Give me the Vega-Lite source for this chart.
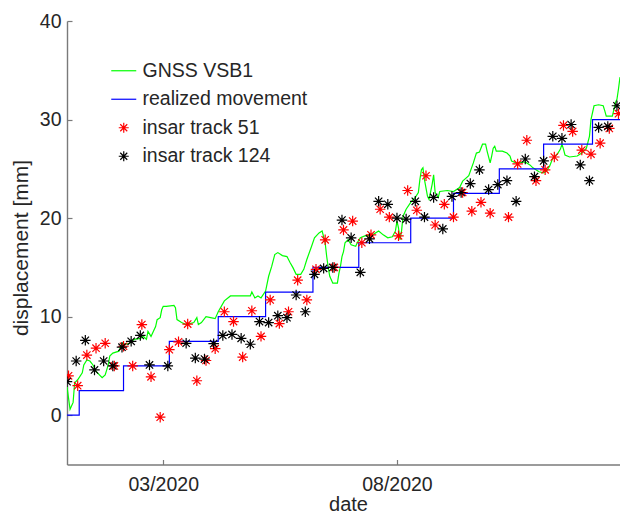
{
  "$schema": "https://vega.github.io/schema/vega-lite/v6.json",
  "width": 553,
  "height": 443.5,
  "autosize": "none",
  "padding": {"left": 67, "top": 21, "right": 0, "bottom": 50},
  "background": "white",
  "config": {
    "view": {"stroke": null},
    "font": "Liberation Sans",
    "axis": {
      "grid": false,
      "domainColor": "#7a7a7a",
      "domainWidth": 1.4,
      "tickColor": "#7a7a7a",
      "tickWidth": 1.2,
      "tickSize": -5,
      "labelColor": "#262626",
      "titleColor": "#262626",
      "labelFont": "Liberation Sans",
      "titleFont": "Liberation Sans",
      "labelFontSize": 19.5,
      "titleFontSize": 21,
      "titleFontWeight": "normal",
      "labelOverlap": false,
      "labelFlush": false
    }
  },
  "datasets": {
    "gnss": [
      {"date": "2019-12-29", "mm": 2.9, "series": "GNSS VSB1"},
      {"date": "2019-12-31", "mm": 0.6, "series": "GNSS VSB1"},
      {"date": "2020-01-02", "mm": 1.3, "series": "GNSS VSB1"},
      {"date": "2020-01-03", "mm": 3.3, "series": "GNSS VSB1"},
      {"date": "2020-01-05", "mm": 3.6, "series": "GNSS VSB1"},
      {"date": "2020-01-08", "mm": 4.3, "series": "GNSS VSB1"},
      {"date": "2020-01-09", "mm": 5.1, "series": "GNSS VSB1"},
      {"date": "2020-01-11", "mm": 5.6, "series": "GNSS VSB1"},
      {"date": "2020-01-13", "mm": 5.5, "series": "GNSS VSB1"},
      {"date": "2020-01-15", "mm": 5.1, "series": "GNSS VSB1"},
      {"date": "2020-01-17", "mm": 4.45, "series": "GNSS VSB1"},
      {"date": "2020-01-21", "mm": 3.8, "series": "GNSS VSB1"},
      {"date": "2020-01-23", "mm": 4.1, "series": "GNSS VSB1"},
      {"date": "2020-01-25", "mm": 5.1, "series": "GNSS VSB1"},
      {"date": "2020-01-26", "mm": 6.0, "series": "GNSS VSB1"},
      {"date": "2020-01-28", "mm": 6.3, "series": "GNSS VSB1"},
      {"date": "2020-02-01", "mm": 6.5, "series": "GNSS VSB1"},
      {"date": "2020-02-03", "mm": 7.3, "series": "GNSS VSB1"},
      {"date": "2020-02-05", "mm": 7.2, "series": "GNSS VSB1"},
      {"date": "2020-02-08", "mm": 7.3, "series": "GNSS VSB1"},
      {"date": "2020-02-11", "mm": 7.7, "series": "GNSS VSB1"},
      {"date": "2020-02-15", "mm": 7.8, "series": "GNSS VSB1"},
      {"date": "2020-02-17", "mm": 8.0, "series": "GNSS VSB1"},
      {"date": "2020-02-19", "mm": 7.7, "series": "GNSS VSB1"},
      {"date": "2020-02-20", "mm": 8.5, "series": "GNSS VSB1"},
      {"date": "2020-02-22", "mm": 8.0, "series": "GNSS VSB1"},
      {"date": "2020-02-25", "mm": 9.0, "series": "GNSS VSB1"},
      {"date": "2020-02-26", "mm": 9.7, "series": "GNSS VSB1"},
      {"date": "2020-02-28", "mm": 9.9, "series": "GNSS VSB1"},
      {"date": "2020-02-29", "mm": 10.7, "series": "GNSS VSB1"},
      {"date": "2020-03-01", "mm": 11.05, "series": "GNSS VSB1"},
      {"date": "2020-03-03", "mm": 11.05, "series": "GNSS VSB1"},
      {"date": "2020-03-08", "mm": 11.15, "series": "GNSS VSB1"},
      {"date": "2020-03-09", "mm": 10.9, "series": "GNSS VSB1"},
      {"date": "2020-03-10", "mm": 9.7, "series": "GNSS VSB1"},
      {"date": "2020-03-13", "mm": 9.4, "series": "GNSS VSB1"},
      {"date": "2020-03-16", "mm": 9.2, "series": "GNSS VSB1"},
      {"date": "2020-03-21", "mm": 9.4, "series": "GNSS VSB1"},
      {"date": "2020-03-23", "mm": 9.9, "series": "GNSS VSB1"},
      {"date": "2020-03-24", "mm": 9.2, "series": "GNSS VSB1"},
      {"date": "2020-03-26", "mm": 9.4, "series": "GNSS VSB1"},
      {"date": "2020-03-29", "mm": 10.0, "series": "GNSS VSB1"},
      {"date": "2020-04-01", "mm": 9.9, "series": "GNSS VSB1"},
      {"date": "2020-04-04", "mm": 9.8, "series": "GNSS VSB1"},
      {"date": "2020-04-06", "mm": 10.5, "series": "GNSS VSB1"},
      {"date": "2020-04-10", "mm": 11.6, "series": "GNSS VSB1"},
      {"date": "2020-04-14", "mm": 12.1, "series": "GNSS VSB1"},
      {"date": "2020-04-20", "mm": 12.1, "series": "GNSS VSB1"},
      {"date": "2020-04-27", "mm": 12.1, "series": "GNSS VSB1"},
      {"date": "2020-04-28", "mm": 12.5, "series": "GNSS VSB1"},
      {"date": "2020-04-30", "mm": 11.9, "series": "GNSS VSB1"},
      {"date": "2020-05-02", "mm": 12.1, "series": "GNSS VSB1"},
      {"date": "2020-05-04", "mm": 11.9, "series": "GNSS VSB1"},
      {"date": "2020-05-07", "mm": 12.6, "series": "GNSS VSB1"},
      {"date": "2020-05-09", "mm": 14.1, "series": "GNSS VSB1"},
      {"date": "2020-05-11", "mm": 15.1, "series": "GNSS VSB1"},
      {"date": "2020-05-13", "mm": 16.3, "series": "GNSS VSB1"},
      {"date": "2020-05-15", "mm": 16.5, "series": "GNSS VSB1"},
      {"date": "2020-05-18", "mm": 16.2, "series": "GNSS VSB1"},
      {"date": "2020-05-21", "mm": 16.1, "series": "GNSS VSB1"},
      {"date": "2020-05-23", "mm": 15.5, "series": "GNSS VSB1"},
      {"date": "2020-05-25", "mm": 14.95, "series": "GNSS VSB1"},
      {"date": "2020-05-27", "mm": 14.3, "series": "GNSS VSB1"},
      {"date": "2020-05-30", "mm": 14.3, "series": "GNSS VSB1"},
      {"date": "2020-06-01", "mm": 14.8, "series": "GNSS VSB1"},
      {"date": "2020-06-03", "mm": 15.8, "series": "GNSS VSB1"},
      {"date": "2020-06-06", "mm": 17.1, "series": "GNSS VSB1"},
      {"date": "2020-06-08", "mm": 18.0, "series": "GNSS VSB1"},
      {"date": "2020-06-11", "mm": 18.5, "series": "GNSS VSB1"},
      {"date": "2020-06-13", "mm": 18.7, "series": "GNSS VSB1"},
      {"date": "2020-06-15", "mm": 17.5, "series": "GNSS VSB1"},
      {"date": "2020-06-16", "mm": 16.1, "series": "GNSS VSB1"},
      {"date": "2020-06-17", "mm": 15.0, "series": "GNSS VSB1"},
      {"date": "2020-06-18", "mm": 14.1, "series": "GNSS VSB1"},
      {"date": "2020-06-20", "mm": 13.4, "series": "GNSS VSB1"},
      {"date": "2020-06-23", "mm": 13.4, "series": "GNSS VSB1"},
      {"date": "2020-06-24", "mm": 14.4, "series": "GNSS VSB1"},
      {"date": "2020-06-25", "mm": 15.1, "series": "GNSS VSB1"},
      {"date": "2020-06-26", "mm": 16.1, "series": "GNSS VSB1"},
      {"date": "2020-06-27", "mm": 16.6, "series": "GNSS VSB1"},
      {"date": "2020-06-28", "mm": 17.5, "series": "GNSS VSB1"},
      {"date": "2020-06-30", "mm": 17.8, "series": "GNSS VSB1"},
      {"date": "2020-07-02", "mm": 17.3, "series": "GNSS VSB1"},
      {"date": "2020-07-05", "mm": 17.15, "series": "GNSS VSB1"},
      {"date": "2020-07-06", "mm": 17.5, "series": "GNSS VSB1"},
      {"date": "2020-07-08", "mm": 18.0, "series": "GNSS VSB1"},
      {"date": "2020-07-11", "mm": 18.2, "series": "GNSS VSB1"},
      {"date": "2020-07-16", "mm": 18.3, "series": "GNSS VSB1"},
      {"date": "2020-07-20", "mm": 18.7, "series": "GNSS VSB1"},
      {"date": "2020-07-23", "mm": 18.3, "series": "GNSS VSB1"},
      {"date": "2020-07-26", "mm": 18.0, "series": "GNSS VSB1"},
      {"date": "2020-07-29", "mm": 18.1, "series": "GNSS VSB1"},
      {"date": "2020-07-31", "mm": 18.7, "series": "GNSS VSB1"},
      {"date": "2020-08-01", "mm": 19.7, "series": "GNSS VSB1"},
      {"date": "2020-08-02", "mm": 19.0, "series": "GNSS VSB1"},
      {"date": "2020-08-03", "mm": 17.8, "series": "GNSS VSB1"},
      {"date": "2020-08-04", "mm": 18.7, "series": "GNSS VSB1"},
      {"date": "2020-08-05", "mm": 20.2, "series": "GNSS VSB1"},
      {"date": "2020-08-07", "mm": 20.9, "series": "GNSS VSB1"},
      {"date": "2020-08-10", "mm": 21.6, "series": "GNSS VSB1"},
      {"date": "2020-08-13", "mm": 22.1, "series": "GNSS VSB1"},
      {"date": "2020-08-15", "mm": 22.6, "series": "GNSS VSB1"},
      {"date": "2020-08-16", "mm": 23.9, "series": "GNSS VSB1"},
      {"date": "2020-08-17", "mm": 24.9, "series": "GNSS VSB1"},
      {"date": "2020-08-18", "mm": 25.1, "series": "GNSS VSB1"},
      {"date": "2020-08-19", "mm": 23.9, "series": "GNSS VSB1"},
      {"date": "2020-08-21", "mm": 22.2, "series": "GNSS VSB1"},
      {"date": "2020-08-22", "mm": 21.9, "series": "GNSS VSB1"},
      {"date": "2020-08-24", "mm": 23.4, "series": "GNSS VSB1"},
      {"date": "2020-08-25", "mm": 24.4, "series": "GNSS VSB1"},
      {"date": "2020-08-26", "mm": 22.6, "series": "GNSS VSB1"},
      {"date": "2020-08-28", "mm": 22.1, "series": "GNSS VSB1"},
      {"date": "2020-08-29", "mm": 22.7, "series": "GNSS VSB1"},
      {"date": "2020-09-03", "mm": 22.8, "series": "GNSS VSB1"},
      {"date": "2020-09-07", "mm": 22.7, "series": "GNSS VSB1"},
      {"date": "2020-09-11", "mm": 23.1, "series": "GNSS VSB1"},
      {"date": "2020-09-13", "mm": 23.75, "series": "GNSS VSB1"},
      {"date": "2020-09-17", "mm": 24.3, "series": "GNSS VSB1"},
      {"date": "2020-09-20", "mm": 25.6, "series": "GNSS VSB1"},
      {"date": "2020-09-22", "mm": 26.6, "series": "GNSS VSB1"},
      {"date": "2020-09-24", "mm": 26.7, "series": "GNSS VSB1"},
      {"date": "2020-09-26", "mm": 27.5, "series": "GNSS VSB1"},
      {"date": "2020-09-28", "mm": 27.5, "series": "GNSS VSB1"},
      {"date": "2020-09-29", "mm": 26.8, "series": "GNSS VSB1"},
      {"date": "2020-10-01", "mm": 25.6, "series": "GNSS VSB1"},
      {"date": "2020-10-02", "mm": 26.3, "series": "GNSS VSB1"},
      {"date": "2020-10-03", "mm": 27.1, "series": "GNSS VSB1"},
      {"date": "2020-10-04", "mm": 27.3, "series": "GNSS VSB1"},
      {"date": "2020-10-05", "mm": 26.8, "series": "GNSS VSB1"},
      {"date": "2020-10-09", "mm": 26.8, "series": "GNSS VSB1"},
      {"date": "2020-10-12", "mm": 26.6, "series": "GNSS VSB1"},
      {"date": "2020-10-14", "mm": 26.3, "series": "GNSS VSB1"},
      {"date": "2020-10-15", "mm": 25.8, "series": "GNSS VSB1"},
      {"date": "2020-10-18", "mm": 25.6, "series": "GNSS VSB1"},
      {"date": "2020-10-24", "mm": 25.7, "series": "GNSS VSB1"},
      {"date": "2020-10-27", "mm": 25.4, "series": "GNSS VSB1"},
      {"date": "2020-10-29", "mm": 25.1, "series": "GNSS VSB1"},
      {"date": "2020-11-02", "mm": 24.7, "series": "GNSS VSB1"},
      {"date": "2020-11-05", "mm": 24.6, "series": "GNSS VSB1"},
      {"date": "2020-11-07", "mm": 24.8, "series": "GNSS VSB1"},
      {"date": "2020-11-09", "mm": 25.3, "series": "GNSS VSB1"},
      {"date": "2020-11-11", "mm": 26.1, "series": "GNSS VSB1"},
      {"date": "2020-11-14", "mm": 26.5, "series": "GNSS VSB1"},
      {"date": "2020-11-16", "mm": 27.0, "series": "GNSS VSB1"},
      {"date": "2020-11-17", "mm": 27.5, "series": "GNSS VSB1"},
      {"date": "2020-11-18", "mm": 27.0, "series": "GNSS VSB1"},
      {"date": "2020-11-19", "mm": 26.4, "series": "GNSS VSB1"},
      {"date": "2020-11-22", "mm": 26.2, "series": "GNSS VSB1"},
      {"date": "2020-11-27", "mm": 26.3, "series": "GNSS VSB1"},
      {"date": "2020-11-30", "mm": 26.6, "series": "GNSS VSB1"},
      {"date": "2020-12-03", "mm": 27.1, "series": "GNSS VSB1"},
      {"date": "2020-12-05", "mm": 28.3, "series": "GNSS VSB1"},
      {"date": "2020-12-06", "mm": 30.0, "series": "GNSS VSB1"},
      {"date": "2020-12-08", "mm": 31.4, "series": "GNSS VSB1"},
      {"date": "2020-12-11", "mm": 31.5, "series": "GNSS VSB1"},
      {"date": "2020-12-14", "mm": 31.4, "series": "GNSS VSB1"},
      {"date": "2020-12-15", "mm": 30.9, "series": "GNSS VSB1"},
      {"date": "2020-12-16", "mm": 30.35, "series": "GNSS VSB1"},
      {"date": "2020-12-20", "mm": 30.35, "series": "GNSS VSB1"},
      {"date": "2020-12-21", "mm": 31.0, "series": "GNSS VSB1"},
      {"date": "2020-12-22", "mm": 31.7, "series": "GNSS VSB1"},
      {"date": "2020-12-23", "mm": 32.05, "series": "GNSS VSB1"},
      {"date": "2020-12-24", "mm": 33.1, "series": "GNSS VSB1"},
      {"date": "2020-12-25", "mm": 34.3, "series": "GNSS VSB1"}
    ],
    "steps": [
      {"date": "2019-12-29", "mm": 0, "series": "realized movement"},
      {"date": "2020-01-06", "mm": 2.5, "series": "realized movement"},
      {"date": "2020-02-04", "mm": 5, "series": "realized movement"},
      {"date": "2020-03-05", "mm": 7.5, "series": "realized movement"},
      {"date": "2020-04-06", "mm": 10, "series": "realized movement"},
      {"date": "2020-05-07", "mm": 12.5, "series": "realized movement"},
      {"date": "2020-06-07", "mm": 15, "series": "realized movement"},
      {"date": "2020-07-07", "mm": 17.5, "series": "realized movement"},
      {"date": "2020-08-10", "mm": 20, "series": "realized movement"},
      {"date": "2020-09-07", "mm": 22.5, "series": "realized movement"},
      {"date": "2020-10-07", "mm": 25, "series": "realized movement"},
      {"date": "2020-11-05", "mm": 27.5, "series": "realized movement"},
      {"date": "2020-12-07", "mm": 30, "series": "realized movement"},
      {"date": "2020-12-25", "mm": 30, "series": "realized movement"}
    ],
    "t51": [
      {"date": "2019-12-30", "mm": 4.0, "series": "insar track 51"},
      {"date": "2020-01-05", "mm": 3.0, "series": "insar track 51"},
      {"date": "2020-01-11", "mm": 6.1, "series": "insar track 51"},
      {"date": "2020-01-17", "mm": 6.8, "series": "insar track 51"},
      {"date": "2020-01-23", "mm": 7.3, "series": "insar track 51"},
      {"date": "2020-01-29", "mm": 5.0, "series": "insar track 51"},
      {"date": "2020-02-04", "mm": 7.0, "series": "insar track 51"},
      {"date": "2020-02-10", "mm": 5.0, "series": "insar track 51"},
      {"date": "2020-02-16", "mm": 9.2, "series": "insar track 51"},
      {"date": "2020-02-22", "mm": 3.9, "series": "insar track 51"},
      {"date": "2020-02-28", "mm": -0.2, "series": "insar track 51"},
      {"date": "2020-03-05", "mm": 6.65, "series": "insar track 51"},
      {"date": "2020-03-11", "mm": 7.45, "series": "insar track 51"},
      {"date": "2020-03-17", "mm": 9.25, "series": "insar track 51"},
      {"date": "2020-03-23", "mm": 3.5, "series": "insar track 51"},
      {"date": "2020-03-29", "mm": 5.55, "series": "insar track 51"},
      {"date": "2020-04-04", "mm": 6.75, "series": "insar track 51"},
      {"date": "2020-04-10", "mm": 10.5, "series": "insar track 51"},
      {"date": "2020-04-16", "mm": 9.5, "series": "insar track 51"},
      {"date": "2020-04-22", "mm": 5.9, "series": "insar track 51"},
      {"date": "2020-04-28", "mm": 10.6, "series": "insar track 51"},
      {"date": "2020-05-04", "mm": 8.0, "series": "insar track 51"},
      {"date": "2020-05-10", "mm": 11.7, "series": "insar track 51"},
      {"date": "2020-05-16", "mm": 9.3, "series": "insar track 51"},
      {"date": "2020-05-22", "mm": 10.5, "series": "insar track 51"},
      {"date": "2020-05-28", "mm": 13.7, "series": "insar track 51"},
      {"date": "2020-06-03", "mm": 11.7, "series": "insar track 51"},
      {"date": "2020-06-09", "mm": 14.8, "series": "insar track 51"},
      {"date": "2020-06-15", "mm": 17.8, "series": "insar track 51"},
      {"date": "2020-06-21", "mm": 15.0, "series": "insar track 51"},
      {"date": "2020-06-27", "mm": 18.8, "series": "insar track 51"},
      {"date": "2020-07-03", "mm": 19.7, "series": "insar track 51"},
      {"date": "2020-07-09", "mm": 17.5, "series": "insar track 51"},
      {"date": "2020-07-15", "mm": 18.3, "series": "insar track 51"},
      {"date": "2020-07-21", "mm": 20.9, "series": "insar track 51"},
      {"date": "2020-07-27", "mm": 20.1, "series": "insar track 51"},
      {"date": "2020-08-02", "mm": 18.2, "series": "insar track 51"},
      {"date": "2020-08-08", "mm": 22.8, "series": "insar track 51"},
      {"date": "2020-08-14", "mm": 20.8, "series": "insar track 51"},
      {"date": "2020-08-20", "mm": 24.3, "series": "insar track 51"},
      {"date": "2020-08-26", "mm": 19.3, "series": "insar track 51"},
      {"date": "2020-09-01", "mm": 21.4, "series": "insar track 51"},
      {"date": "2020-09-07", "mm": 20.1, "series": "insar track 51"},
      {"date": "2020-09-13", "mm": 22.6, "series": "insar track 51"},
      {"date": "2020-09-19", "mm": 20.7, "series": "insar track 51"},
      {"date": "2020-09-25", "mm": 21.6, "series": "insar track 51"},
      {"date": "2020-10-01", "mm": 20.5, "series": "insar track 51"},
      {"date": "2020-10-13", "mm": 20.1, "series": "insar track 51"},
      {"date": "2020-10-19", "mm": 25.5, "series": "insar track 51"},
      {"date": "2020-10-25", "mm": 27.9, "series": "insar track 51"},
      {"date": "2020-10-31", "mm": 23.8, "series": "insar track 51"},
      {"date": "2020-11-06", "mm": 24.9, "series": "insar track 51"},
      {"date": "2020-11-12", "mm": 26.2, "series": "insar track 51"},
      {"date": "2020-11-18", "mm": 29.4, "series": "insar track 51"},
      {"date": "2020-11-24", "mm": 28.8, "series": "insar track 51"},
      {"date": "2020-11-30", "mm": 26.9, "series": "insar track 51"},
      {"date": "2020-12-06", "mm": 26.5, "series": "insar track 51"},
      {"date": "2020-12-12", "mm": 27.6, "series": "insar track 51"},
      {"date": "2020-12-18", "mm": 29.1, "series": "insar track 51"},
      {"date": "2020-12-24", "mm": 30.6, "series": "insar track 51"}
    ],
    "t124": [
      {"date": "2019-12-29", "mm": 3.4, "series": "insar track 124"},
      {"date": "2020-01-04", "mm": 5.5, "series": "insar track 124"},
      {"date": "2020-01-10", "mm": 7.6, "series": "insar track 124"},
      {"date": "2020-01-16", "mm": 4.6, "series": "insar track 124"},
      {"date": "2020-01-22", "mm": 5.5, "series": "insar track 124"},
      {"date": "2020-01-28", "mm": 5.0, "series": "insar track 124"},
      {"date": "2020-02-03", "mm": 6.9, "series": "insar track 124"},
      {"date": "2020-02-09", "mm": 7.5, "series": "insar track 124"},
      {"date": "2020-02-15", "mm": 8.1, "series": "insar track 124"},
      {"date": "2020-02-21", "mm": 5.1, "series": "insar track 124"},
      {"date": "2020-03-04", "mm": 5.0, "series": "insar track 124"},
      {"date": "2020-03-16", "mm": 7.3, "series": "insar track 124"},
      {"date": "2020-03-22", "mm": 5.8, "series": "insar track 124"},
      {"date": "2020-03-28", "mm": 5.7, "series": "insar track 124"},
      {"date": "2020-04-03", "mm": 7.26, "series": "insar track 124"},
      {"date": "2020-04-09", "mm": 8.1, "series": "insar track 124"},
      {"date": "2020-04-15", "mm": 8.2, "series": "insar track 124"},
      {"date": "2020-04-21", "mm": 7.8, "series": "insar track 124"},
      {"date": "2020-04-27", "mm": 7.2, "series": "insar track 124"},
      {"date": "2020-05-03", "mm": 9.5, "series": "insar track 124"},
      {"date": "2020-05-09", "mm": 9.4, "series": "insar track 124"},
      {"date": "2020-05-15", "mm": 10.1, "series": "insar track 124"},
      {"date": "2020-05-21", "mm": 9.9, "series": "insar track 124"},
      {"date": "2020-05-27", "mm": 12.2, "series": "insar track 124"},
      {"date": "2020-06-02", "mm": 10.5, "series": "insar track 124"},
      {"date": "2020-06-08", "mm": 14.3, "series": "insar track 124"},
      {"date": "2020-06-14", "mm": 14.9, "series": "insar track 124"},
      {"date": "2020-06-20", "mm": 15.0, "series": "insar track 124"},
      {"date": "2020-06-26", "mm": 19.8, "series": "insar track 124"},
      {"date": "2020-07-02", "mm": 18.0, "series": "insar track 124"},
      {"date": "2020-07-08", "mm": 14.5, "series": "insar track 124"},
      {"date": "2020-07-14", "mm": 17.9, "series": "insar track 124"},
      {"date": "2020-07-20", "mm": 21.7, "series": "insar track 124"},
      {"date": "2020-07-26", "mm": 21.4, "series": "insar track 124"},
      {"date": "2020-08-01", "mm": 20.0, "series": "insar track 124"},
      {"date": "2020-08-07", "mm": 19.9, "series": "insar track 124"},
      {"date": "2020-08-13", "mm": 21.7, "series": "insar track 124"},
      {"date": "2020-08-19", "mm": 20.1, "series": "insar track 124"},
      {"date": "2020-08-25", "mm": 22.1, "series": "insar track 124"},
      {"date": "2020-08-31", "mm": 18.9, "series": "insar track 124"},
      {"date": "2020-09-06", "mm": 22.2, "series": "insar track 124"},
      {"date": "2020-09-12", "mm": 22.6, "series": "insar track 124"},
      {"date": "2020-09-18", "mm": 23.5, "series": "insar track 124"},
      {"date": "2020-09-24", "mm": 24.9, "series": "insar track 124"},
      {"date": "2020-09-30", "mm": 22.9, "series": "insar track 124"},
      {"date": "2020-10-06", "mm": 23.4, "series": "insar track 124"},
      {"date": "2020-10-12", "mm": 23.8, "series": "insar track 124"},
      {"date": "2020-10-18", "mm": 21.7, "series": "insar track 124"},
      {"date": "2020-10-24", "mm": 26.0, "series": "insar track 124"},
      {"date": "2020-10-30", "mm": 24.2, "series": "insar track 124"},
      {"date": "2020-11-05", "mm": 25.8, "series": "insar track 124"},
      {"date": "2020-11-11", "mm": 28.3, "series": "insar track 124"},
      {"date": "2020-11-17", "mm": 28.1, "series": "insar track 124"},
      {"date": "2020-11-23", "mm": 29.5, "series": "insar track 124"},
      {"date": "2020-11-29", "mm": 25.4, "series": "insar track 124"},
      {"date": "2020-12-05", "mm": 23.8, "series": "insar track 124"},
      {"date": "2020-12-11", "mm": 29.2, "series": "insar track 124"},
      {"date": "2020-12-17", "mm": 29.3, "series": "insar track 124"},
      {"date": "2020-12-23", "mm": 31.4, "series": "insar track 124"}
    ]
  },
  "encoding": {
    "x": {
      "field": "date",
      "type": "temporal",
      "scale": {
        "type": "utc",
        "domain": [
          {"year": 2019, "month": 12, "date": 29, "utc": true},
          {"year": 2020, "month": 12, "date": 25, "utc": true}
        ],
        "nice": false
      },
      "axis": {
        "values": [
          {"year": 2020, "month": 3, "date": 1, "utc": true},
          {"year": 2020, "month": 8, "date": 1, "utc": true}
        ],
        "labelExpr": "utcFormat(datum.value, '%m/%Y')",
        "labelPadding": 16,
        "title": "date",
        "titleFontSize": 20,
        "titleX": 281,
        "titleY": 46,
        "titleAlign": "center",
        "titleBaseline": "alphabetic",
        "titleAnchor": null
      }
    },
    "y": {
      "field": "mm",
      "type": "quantitative",
      "scale": {"domain": [-5, 40], "nice": false, "zero": false},
      "axis": {
        "values": [0, 10, 20, 30, 40],
        "labelPadding": 11,
        "title": "displacement [mm]",
        "titleAngle": 270,
        "titleX": -39.4,
        "titleY": 226.5,
        "titleAlign": "center",
        "titleBaseline": "alphabetic"
      }
    },
    "color": {
      "field": "series",
      "type": "nominal",
      "scale": {
        "domain": ["GNSS VSB1", "realized movement", "insar track 51", "insar track 124"],
        "range": ["#00ff00", "#0000ff", "#ff0000", "#000000"]
      },
      "legend": {
        "title": null,
        "orient": "none",
        "legendX": 47,
        "legendY": 40,
        "padding": 0,
        "labelFont": "Liberation Sans",
        "labelFontSize": 19.5,
        "labelColor": "#262626",
        "labelLimit": 400,
        "symbolSize": 100,
        "labelOffset": 9,
        "rowPadding": 7.5,
        "symbolStrokeWidth": 1.2,
        "encode": {
          "symbols": {
            "update": {
              "shape": {"signal": "indexof(['GNSS VSB1','realized movement'], datum.value) >= 0 ? 'M-2.5,0L2.5,0' : 'M-1,0L1,0M0,-1L0,1M-0.7,-0.7L0.7,0.7M-0.7,0.7L0.7,-0.7'"},
              "fill": {"value": "transparent"},
              "stroke": {"signal": "scale('color', datum.value)"},
              "strokeWidth": {"value": 1.2},
              "opacity": {"value": 1}
            }
          }
        }
      }
    }
  },
  "layer": [
    {"data": {"name": "gnss"}, "mark": {"type": "line", "strokeWidth": 1.2, "clip": true}},
    {"data": {"name": "steps"}, "mark": {"type": "line", "strokeWidth": 1.2, "interpolate": "step-after", "clip": true}},
    {"data": {"name": "t51"}, "mark": {"type": "point", "filled": false, "size": 110, "strokeWidth": 1.2, "opacity": 1, "shape": "M-1,0L1,0M0,-1L0,1M-0.7,-0.7L0.7,0.7M-0.7,0.7L0.7,-0.7", "clip": true}},
    {"data": {"name": "t124"}, "mark": {"type": "point", "filled": false, "size": 110, "strokeWidth": 1.2, "opacity": 1, "shape": "M-1,0L1,0M0,-1L0,1M-0.7,-0.7L0.7,0.7M-0.7,0.7L0.7,-0.7", "clip": true}}
  ]
}
